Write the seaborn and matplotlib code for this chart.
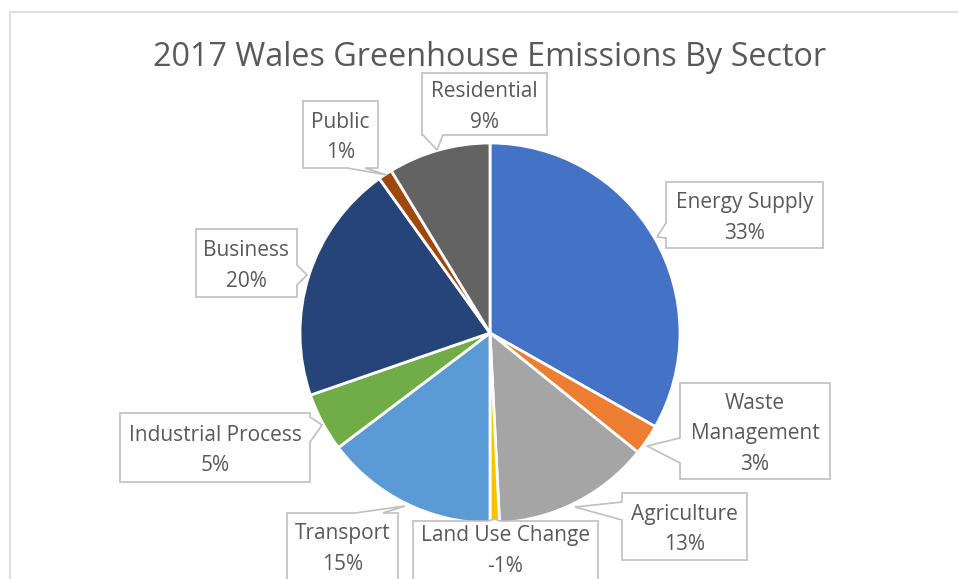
"""
2017 Wales greenhouse emissions by sector, drawn as an Excel-style pie
with callout labels.
"""

import matplotlib

matplotlib.use("Agg")

import matplotlib.pyplot as plt
import seaborn as sns
from matplotlib.patches import Polygon

# share of total emissions (%), Land Use Change is a net sink
sectors = [
    "Energy Supply", "Waste\nManagement", "Agriculture", "Land Use Change",
    "Transport", "Industrial Process", "Business", "Public", "Residential",
]
share_pct = [33.2, 2.6, 13.4, -0.8, 14.7, 5.0, 20.4, 1.2, 8.7]
sector_colors = [
    "#4472C4", "#ED7D31", "#A5A5A5", "#FFC000", "#5B9BD5",
    "#70AD47", "#264478", "#9E480E", "#636363",
]

W, H = 958, 579
TEXT = "#595959"
EDGE = "#BFBFBF"

sns.set_theme(style="white")
plt.rcParams["font.family"] = ["Open Sans", "DejaVu Sans"]

fig = plt.figure(figsize=(W / 100, H / 100), dpi=100)
ax = fig.add_axes([0, 0, 1, 1])


def fy(y):
    """Screen y (down) to axis y (up)."""
    return H - y


# chart area frame (cropped on right and bottom)
ax.plot([10, 10, W + 5], [fy(H + 5), fy(12), fy(12)], color="#D9D9D9", lw=1.2)

palette = sns.color_palette(sector_colors)
ax.pie(
    [abs(v) for v in share_pct],
    colors=palette,
    startangle=90,
    counterclock=False,
    center=(490, fy(333)),
    radius=190,
    wedgeprops=dict(edgecolor="white", linewidth=2),
    frame=True,
)
ax.set_xlim(0, W)
ax.set_ylim(0, H)
ax.set_aspect("equal")
ax.axis("off")

ax.text(490, fy(58), "2017 Wales Greenhouse Emissions By Sector",
        ha="center", va="center", fontsize=23.3, color=TEXT)

# callout boxes: (x0, y0, x1, y1), pointer side, pointer base, tip, text y
callouts = [
    ((666, 182, 823, 248), "left", (223, 238), (657, 237), None),
    ((680, 383, 830, 479), "left", (438, 463), (647, 446), None),
    ((622, 493, 747, 560), "left", (502, 520), (575, 507), None),
    ((413, 521, 598, 600), "top", (488, 500), (495, 519), 551),
    ((287, 513, 398, 600), "top", (355, 383), (405, 506), 549),
    ((120, 413, 310, 482), "right", (417, 442), (322, 425), None),
    ((196, 229, 297, 297), "right", (265, 285), (307, 275), None),
    ((303, 101, 378, 168), "bottom", (347, 365), (387, 175), None),
    ((422, 73, 547, 135), "bottom", (423, 443), (437, 150), None),
]

for name, value, (box, side, base, tip, ty) in zip(sectors, share_pct, callouts):
    x0, y0, x1, y1 = box
    b0, b1 = base
    pts = [(x0, y0)]
    if side == "top":
        pts += [(b0, y0), tip, (b1, y0)]
    pts += [(x1, y0)]
    if side == "right":
        pts += [(x1, b0), tip, (x1, b1)]
    pts += [(x1, y1)]
    if side == "bottom":
        pts += [(b1, y1), tip, (b0, y1)]
    pts += [(x0, y1)]
    if side == "left":
        pts += [(x0, b1), tip, (x0, b0)]
    poly = Polygon([(px, fy(py)) for px, py in pts], closed=True,
                   facecolor="white", edgecolor=EDGE, lw=1.2, zorder=3)
    ax.add_patch(poly)
    label = f"{name}\n{value:.0f}%"
    cy = ty if ty is not None else (y0 + y1) / 2 + 3
    ax.text((x0 + x1) / 2, fy(cy), label, ha="center", va="center",
            multialignment="center", fontsize=15, color=TEXT,
            linespacing=1.6, zorder=4)

fig.savefig("out.png", dpi=100)
plt.close(fig)
